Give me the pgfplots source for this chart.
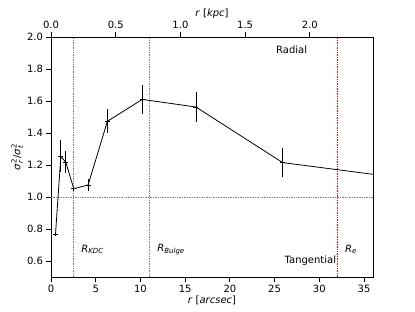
\documentclass[border=0pt]{standalone}
\usepackage{fontspec}
\setmainfont{DejaVu Sans}
\usepackage{pgfplots}
\pgfplotsset{compat=1.18}
\pgfplotstableread{
x y e
0.5 0.765 0.01
1.1 1.254 0.10
1.65 1.217 0.07
2.55 1.052 0.012
4.15 1.075 0.035
6.3 1.473 0.075
10.2 1.610 0.09
16.2 1.5625 0.095
25.9 1.215 0.09
40.0 1.113 0.05
}\datatab
\newcommand{\sig}[1]{$\mbox{\textit{σ}}^{\mbox{\fontsize{7}{8}\selectfont 2}}_{\mbox{\fontsize{7}{8}\selectfont\textit{#1}}}$}
\begin{document}
\begin{tikzpicture}[x=1pt,y=1pt]
\path[use as bounding box] (-51,-34) rectangle (364,277);
\begin{axis}[at={(0,0)}, anchor=south west, width=322pt, height=240pt, scale only axis,
  xmin=0, xmax=36, ymin=0.5, ymax=2.0,
  xtick={0,5,...,35}, ytick={0.6,0.8,...,2.0},
  xtick pos=left, ytick pos=left, tick align=outside, major tick length=4.5pt,
  axis line style={line width=0.8pt}, every tick/.style={black, line width=0.8pt},
  /pgf/number format/assume math mode=true,
  yticklabel style={/pgf/number format/.cd, fixed, fixed zerofill, precision=1},
  every tick label/.append style={font=\fontsize{10}{12}\selectfont},
  xlabel={\textit{r} [\textit{arcsec}]},
  ylabel={\sig{r}/\sig{t}},
  label style={font=\fontsize{10}{12}\selectfont},
  xlabel style={yshift=4pt},
  ylabel style={yshift=-3pt},
  clip=true]
\addplot[gray, densely dotted, line width=0.7pt, forget plot] coordinates {(0,1.0) (36,1.0)};
\addplot[gray, densely dotted, line width=0.7pt, forget plot] coordinates {(2.5,0.5) (2.5,2.0)};
\addplot[gray, densely dotted, line width=0.7pt, forget plot] coordinates {(11,0.5) (11,2.0)};
\addplot[red, densely dotted, line width=0.7pt, forget plot] coordinates {(32,0.5) (32,2.0)};
\addplot[black, line width=0.8pt, mark=-, mark size=2.5pt, mark options={line width=0.6pt},
  error bars/.cd, y dir=both, y explicit, error mark=none,
  error bar style={line width=0.8pt, black}]
  table[x=x, y=y, y error=e] {\datatab};
\node[anchor=west, font=\fontsize{10}{12}\selectfont] at (axis cs:3.0,0.673) {\textit{R}\textsubscript{\textit{KDC}}};
\node[anchor=west, font=\fontsize{10}{12}\selectfont] at (axis cs:11.5,0.673) {\textit{R}\textsubscript{\textit{Bulge}}};
\node[anchor=west, font=\fontsize{10}{12}\selectfont] at (axis cs:32.5,0.673) {\textit{R}\textsubscript{\textit{e}}};
\node[anchor=east, font=\fontsize{10}{12}\selectfont, inner xsep=1pt] at (axis cs:32,0.60) {Tangential};
\node[font=\fontsize{10}{12}\selectfont] at (axis cs:26.9,1.923) {Radial};
\end{axis}
\begin{axis}[at={(0,0)}, anchor=south west, width=322pt, height=240pt, scale only axis,
  xmin=0, xmax=2.488, ymin=0.5, ymax=2.0,
  axis x line*=top, axis y line=none,
  xtick={0,0.5,...,2.0}, tick align=outside, major tick length=4.5pt,
  axis line style={line width=0.8pt}, every tick/.style={black, line width=0.8pt},
  /pgf/number format/assume math mode=true,
  xticklabel style={/pgf/number format/.cd, fixed, fixed zerofill, precision=1},
  every tick label/.append style={font=\fontsize{10}{12}\selectfont},
  xlabel={\textit{r} [\textit{kpc}]},
  label style={font=\fontsize{10}{12}\selectfont},
  xlabel style={yshift=-4pt}]
\end{axis}
\end{tikzpicture}
\end{document}
